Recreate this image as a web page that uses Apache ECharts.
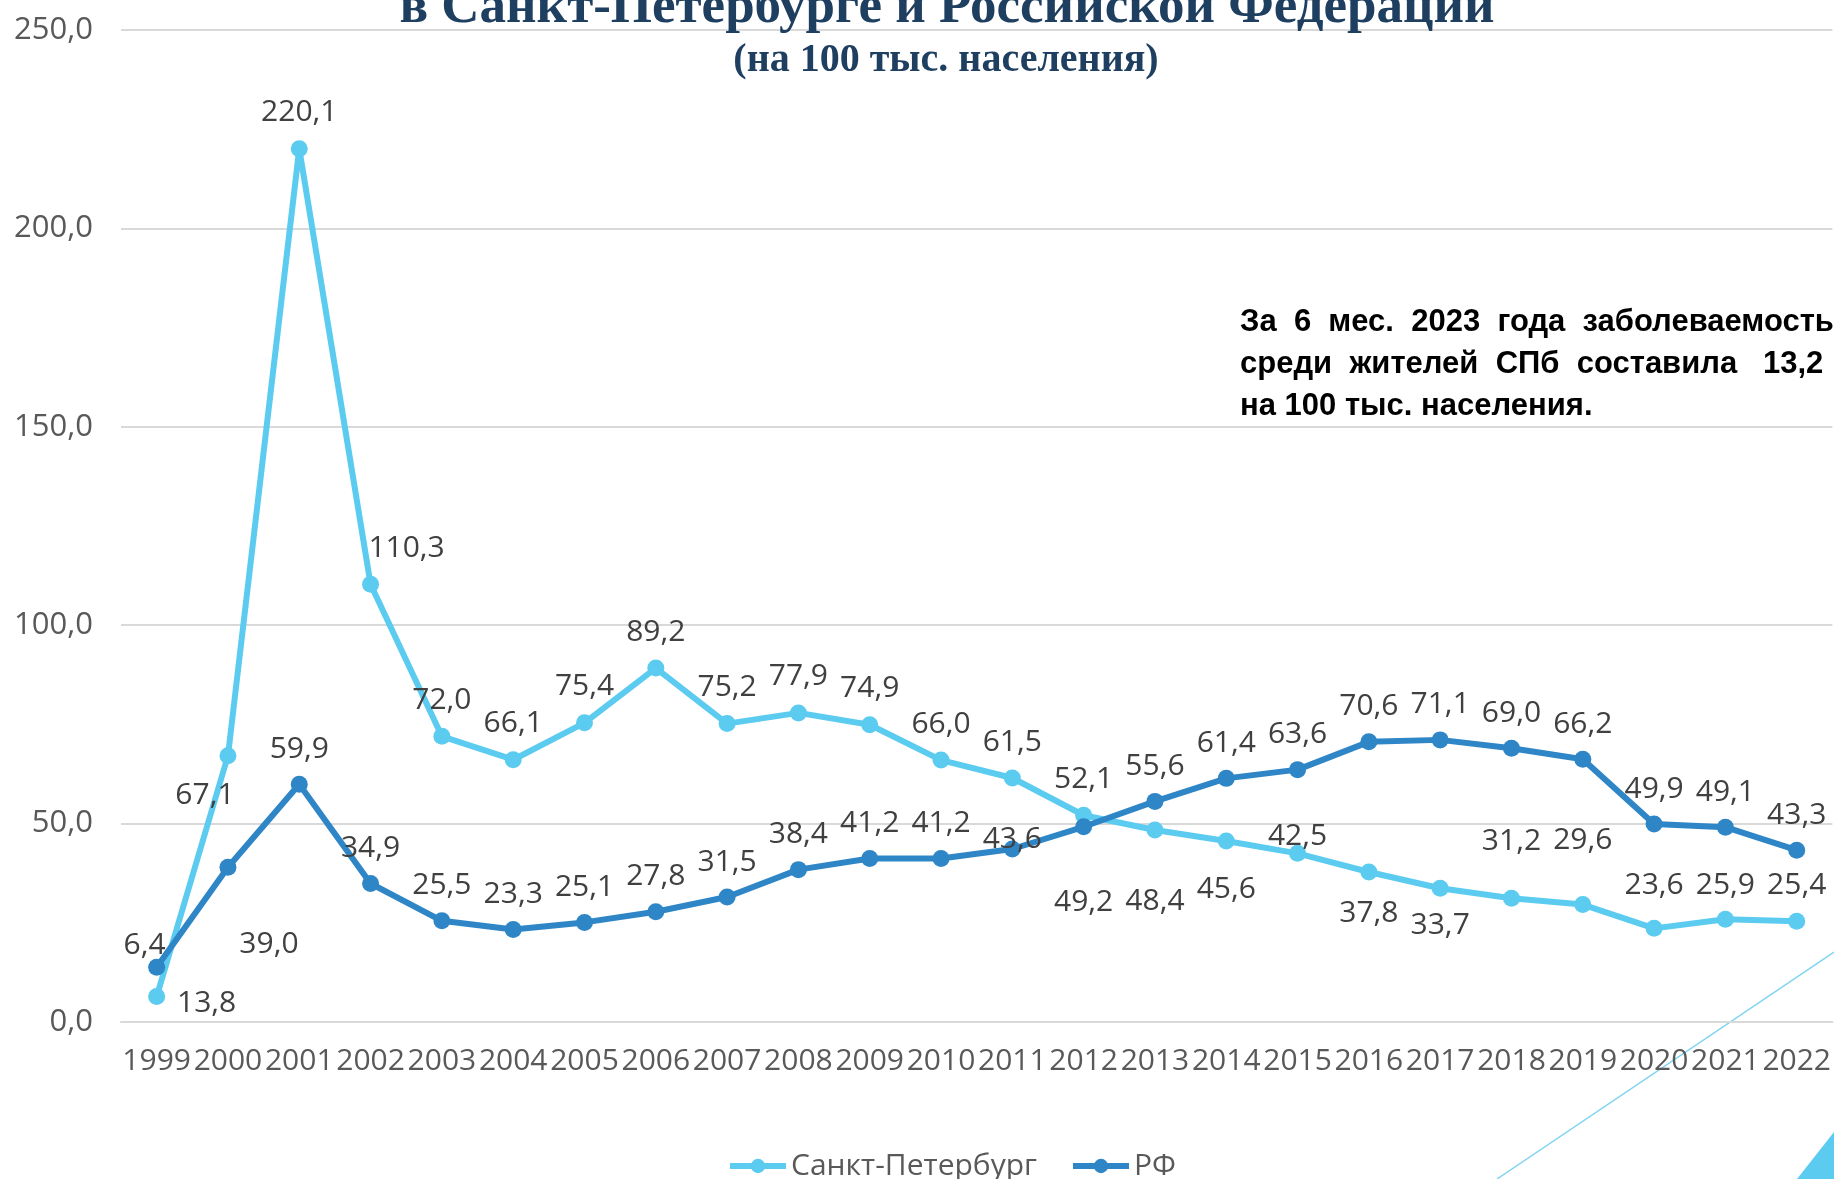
<!DOCTYPE html>
<html>
<head>
<meta charset="utf-8">
<script src="https://cdn.jsdelivr.net/npm/echarts@6/dist/echarts.min.js"></script>
<style>
  html, body { margin: 0; padding: 0; background: #fff; }
  #main { width: 1834px; height: 1179px; }
</style>
</head>
<body>
<div id="main"></div>
<script>
var years = ['1999','2000','2001','2002','2003','2004','2005','2006','2007','2008','2009','2010',
             '2011','2012','2013','2014','2015','2016','2017','2018','2019','2020','2021','2022'];
// Санкт-Петербург
var spbValues = [6.4, 67.1, 220.1, 110.3, 72.0, 66.1, 75.4, 89.2, 75.2, 77.9, 74.9, 66.0,
                 61.5, 52.1, 48.4, 45.6, 42.5, 37.8, 33.7, 31.2, 29.6, 23.6, 25.9, 25.4];
// РФ
var rfValues = [13.8, 39.0, 59.9, 34.9, 25.5, 23.3, 25.1, 27.8, 31.5, 38.4, 41.2, 41.2,
                43.6, 49.2, 55.6, 61.4, 63.6, 70.6, 71.1, 69.0, 66.2, 49.9, 49.1, 43.3];

// label placement (hand-moved labels, like in the original slide)
var spbLabelShift = {
  '1999': [-12, -51], '2000': [-23, 40], '2002': [36, -36], '2013': [0, 72],
  '2014': [0, 48], '2015': [0, -17], '2016': [0, 41], '2017': [0, 37],
  '2018': [0, -57], '2019': [0, -64], '2020': [0, -43], '2021': [0, -34]
};
var rfLabelShift = {
  '1999': [50, 36], '2000': [41, 77], '2011': [0, -10], '2012': [0, 76]
};

function fmt(v) { return v.toFixed(1).replace('.', ','); }

function withLabels(values, shifts, def) {
  return values.map(function (v, i) {
    return { value: v, label: { offset: shifts[years[i]] || def } };
  });
}

var myChart = echarts.init(document.getElementById('main'));

var option = {
  animation: false,
  backgroundColor: '#ffffff',
  grid: { left: 121, right: 1, top: 30, bottom: 157 },
  legend: {
    data: ['Санкт-Петербург', 'РФ'],
    left: 722,
    bottom: -7,
    itemWidth: 56,
    itemHeight: 18,
    itemGap: 33,
    lineStyle: { width: 6 },
    textStyle: { fontFamily: 'Open Sans', fontSize: 30, color: '#595959' }
  },
  xAxis: {
    type: 'category',
    data: years,
    axisLine: { lineStyle: { color: '#d9d9d9', width: 2 } },
    axisTick: { show: false },
    axisLabel: { interval: 0, margin: 24, fontFamily: 'Open Sans', fontSize: 30, color: '#595959' }
  },
  yAxis: {
    type: 'value',
    min: 0,
    max: 250,
    interval: 50,
    axisLine: { show: false },
    axisTick: { show: false },
    splitLine: { lineStyle: { color: '#d9d9d9', width: 2 } },
    axisLabel: {
      margin: 28,
      fontFamily: 'Open Sans', fontSize: 31, color: '#595959',
      formatter: function (v) { return fmt(v); }
    }
  },
  series: [
    {
      name: 'Санкт-Петербург',
      type: 'line',
      data: withLabels(spbValues, spbLabelShift, [0, -36]),
      symbol: 'circle',
      symbolSize: 17,
      lineStyle: { width: 6, color: '#5ccbf0' },
      itemStyle: { color: '#5ccbf0' },
      label: {
        show: true, position: 'inside',
        fontFamily: 'Open Sans', fontSize: 30, color: '#404040',
        formatter: function (p) { return fmt(p.value); }
      }
    },
    {
      name: 'РФ',
      type: 'line',
      data: withLabels(rfValues, rfLabelShift, [0, -35]),
      symbol: 'circle',
      symbolSize: 17,
      lineStyle: { width: 6, color: '#2e86c7' },
      itemStyle: { color: '#2e86c7' },
      label: {
        show: true, position: 'inside',
        fontFamily: 'Open Sans', fontSize: 30, color: '#404040',
        formatter: function (p) { return fmt(p.value); }
      }
    }
  ],
  graphic: [
    {
      type: 'text', x: 947, y: -18,
      style: {
        text: 'в Санкт-Петербурге и Российской Федерации',
        font: 'bold 53px "Liberation Serif"', fill: '#1f3f60',
        align: 'center', verticalAlign: 'top'
      },
      z: 10
    },
    {
      type: 'text', x: 946, y: 61,
      style: {
        text: '(на 100 тыс. населения)',
        font: 'bold 40px "Liberation Serif"', fill: '#1f3f60',
        align: 'center', verticalAlign: 'middle'
      },
      z: 10
    },
    {
      type: 'text', x: 1240, y: 301,
      style: {
        text: 'За  6  мес.  2023  года  заболеваемость\nсреди  жителей  СПб  составила   13,2\nна 100 тыс. населения.',
        font: 'bold 31px "Liberation Sans"', fill: '#000000',
        lineHeight: 42
      },
      z: 10
    },
    {
      type: 'line',
      shape: { x1: 1497, y1: 1179, x2: 1834, y2: 952 },
      style: { stroke: '#7fd4f2', lineWidth: 1.5 },
      z: 0
    },
    {
      type: 'polygon',
      shape: { points: [[1797, 1179], [1834, 1132], [1834, 1179]] },
      style: { fill: '#5ccbf0' },
      z: 0
    }
  ]
};

myChart.setOption(option, true);
</script>
</body>
</html>
